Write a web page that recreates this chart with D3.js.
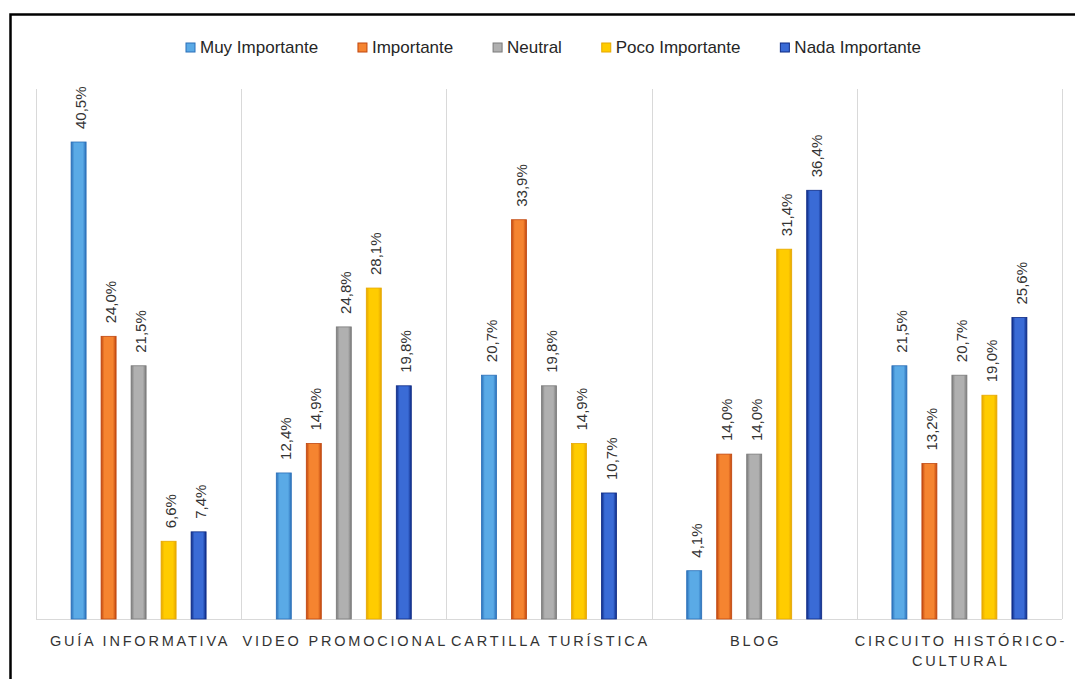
<!DOCTYPE html>
<html>
<head>
<meta charset="utf-8">
<script src="https://cdn.jsdelivr.net/npm/d3@7/dist/d3.min.js"></script>
<style>
  html, body { margin: 0; padding: 0; background: #fff; }
  svg { display: block; }
</style>
</head>
<body>
<svg id="chart" width="1075" height="679"></svg>
<script>
const categories = [
  ["GUÍA INFORMATIVA"],
  ["VIDEO PROMOCIONAL"],
  ["CARTILLA TURÍSTICA"],
  ["BLOG"],
  ["CIRCUITO HISTÓRICO-", "CULTURAL"]
];
const seriesNames = ["Muy Importante", "Importante", "Neutral", "Poco Importante", "Nada Importante"];
const muyImportante  = [40.5, 12.4, 20.7, 4.1, 21.5];
const importante     = [24.0, 14.9, 33.9, 14.0, 13.2];
const neutral        = [21.5, 24.8, 19.8, 14.0, 20.7];
const pocoImportante = [6.6, 28.1, 14.9, 31.4, 19.0];
const nadaImportante = [7.4, 19.8, 10.7, 36.4, 25.6];
const seriesValues = [muyImportante, importante, neutral, pocoImportante, nadaImportante];
const yMax = 45;

const colors = [
  {mid: "#5aaae6", edge: "#2a6fb8"},
  {mid: "#f58430", edge: "#c0460e"},
  {mid: "#b0b0b0", edge: "#7a7a7a"},
  {mid: "#ffcc00", edge: "#e6a700"},
  {mid: "#3a6bd6", edge: "#0d2a85"}
];

const svg = d3.select("#chart");
const defs = svg.append("defs");
colors.forEach((c, i) => {
  const g = defs.append("linearGradient").attr("id", "grad" + i)
    .attr("x1", "0%").attr("x2", "100%").attr("y1", "0%").attr("y2", "0%");
  g.append("stop").attr("offset", "0%").attr("stop-color", c.edge);
  g.append("stop").attr("offset", "22%").attr("stop-color", c.mid);
  g.append("stop").attr("offset", "78%").attr("stop-color", c.mid);
  g.append("stop").attr("offset", "100%").attr("stop-color", c.edge);
});

// frame
svg.append("path").attr("d", "M10.5,679 L10.5,14.5 L1075,14.5")
  .attr("fill", "none").attr("stroke", "#000").attr("stroke-width", 2.5);

const plotLeft = 36, plotRight = 1062, plotTop = 89, plotBottom = 619;
const x0 = d3.scaleBand().domain(d3.range(categories.length)).range([plotLeft, plotRight]).padding(0);
const y = d3.scaleLinear().domain([0, yMax]).range([plotBottom, plotTop]);

// vertical gridlines at category boundaries
const bounds = categories.map((c, i) => x0(i)).concat([plotRight]);
svg.append("g").selectAll("line").data(bounds).join("line")
  .attr("x1", d => Math.round(d) + 0.5).attr("x2", d => Math.round(d) + 0.5)
  .attr("y1", y(yMax)).attr("y2", plotBottom)
  .attr("stroke", "#d9d9d9").attr("stroke-width", 1);

// baseline
svg.append("line").attr("x1", plotLeft).attr("x2", plotRight)
  .attr("y1", plotBottom + 0.5).attr("y2", plotBottom + 0.5)
  .attr("stroke", "#d9d9d9").attr("stroke-width", 1);

const bw = 15;
const gCats = svg.append("g").selectAll("g").data(categories).join("g")
  .attr("transform", (d, i) => `translate(${x0(i)},0)`);

gCats.each(function(cat, ci) {
  const g = d3.select(this);
  const cx0 = x0.bandwidth() / 2;
  seriesValues.forEach((vals, si) => {
    const v = vals[ci];
    const cx = cx0 + (si - 2) * 30;
    g.append("rect")
      .attr("x", cx - bw / 2).attr("width", bw)
      .attr("y", y(v)).attr("height", plotBottom - y(v))
      .attr("fill", `url(#grad${si})`)
      .attr("stroke", colors[si].edge).attr("stroke-width", 0.8);
    g.append("text")
      .attr("transform", `translate(${cx + 7.5},${y(v) - 13}) rotate(-90)`)
      .attr("text-anchor", "start")
      .attr("font-family", "Liberation Sans, Arial, sans-serif")
      .attr("font-size", 15)
      .attr("fill", "#333")
      .text(v.toFixed(1).replace(".", ",") + "%");
  });
  const t = g.append("text")
    .attr("text-anchor", "middle")
    .attr("font-family", "Liberation Sans, Arial, sans-serif")
    .attr("font-size", 14.5)
    .attr("letter-spacing", 2.8)
    .attr("fill", "#333");
  cat.forEach((line, li) => {
    t.append("tspan").attr("x", cx0 + 1.5).attr("y", 646 + li * 20).text(line);
  });
});

// legend
const legend = svg.append("g");
const items = legend.selectAll("g").data(seriesNames).join("g");
items.append("rect").attr("width", 9).attr("height", 9).attr("y", -10)
  .attr("fill", (d, i) => colors[i].mid)
  .attr("stroke", (d, i) => colors[i].edge).attr("stroke-width", 1);
items.append("text").attr("x", 14).attr("y", 0)
  .attr("font-family", "Liberation Sans, Arial, sans-serif")
  .attr("font-size", 17)
  .attr("fill", "#262626")
  .text(d => d);
let widths = [];
items.each(function() { widths.push(14 + d3.select(this).select("text").node().getComputedTextLength()); });
const legendSpan = [186, 921];
const gap = (legendSpan[1] - legendSpan[0] - d3.sum(widths)) / (widths.length - 1);
let cur = legendSpan[0];
items.attr("transform", (d, i) => {
  const xx = cur; cur += widths[i] + gap;
  return `translate(${xx},53)`;
});
</script>
</body>
</html>
